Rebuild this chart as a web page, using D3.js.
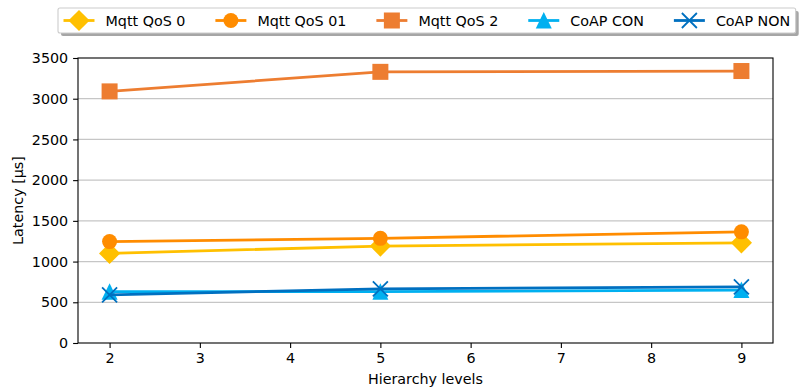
<!DOCTYPE html>
<html>
<head>
<meta charset="utf-8">
<script src="https://cdn.jsdelivr.net/npm/d3@7"></script>
<style>
    body { margin: 0; background: #fff; }
    text { font-family: "DejaVu Sans", sans-serif; fill: #000; }
</style>
</head>
<body>
<div id="chart"></div>
<script>
// data
var levels = [2, 5, 9];
var seriesNames = ["Mqtt QoS 0", "Mqtt QoS 01", "Mqtt QoS 2", "CoAP CON", "CoAP NON"];
var qos0 = [1100, 1190, 1230];
var qos01 = [1245, 1285, 1365];
var qos2 = [3090, 3330, 3340];
var coapCon = [630, 630, 650];
var coapNon = [590, 665, 690];
var xTicks = [2, 3, 4, 5, 6, 7, 8, 9];
var yTicks = [0, 500, 1000, 1500, 2000, 2500, 3000, 3500];

var seriesValues = [qos0, qos01, qos2, coapCon, coapNon];
var colors = ["#ffc000", "#ff8c00", "#ed7d31", "#00b0f0", "#0070c0"];
var markers = ["diamond", "circle", "square", "triangle", "cross"];

var width = 799, height = 390,
    plotLeft = 78, plotRight = 773, plotTop = 58, plotBottom = 343,
    fontSize = 14.3, ms = 15;

var svg = d3.select("#chart").append("svg")
    .attr("width", width)
    .attr("height", height);

var x = d3.scaleLinear().domain([1.65, 9.35]).range([plotLeft, plotRight]);
var y = d3.scaleLinear().domain([0, 3500]).range([plotBottom, plotTop]);

// grid
svg.append("g")
    .selectAll("line")
    .data(yTicks.slice(1, -1))
    .enter().append("line")
    .attr("x1", plotLeft).attr("x2", plotRight)
    .attr("y1", function (d) { return y(d); })
    .attr("y2", function (d) { return y(d); })
    .attr("stroke", "#c6c6c6")
    .attr("stroke-width", 1.3);

function drawMarker(g, type, color) {
    if (type === "circle") {
        g.append("circle").attr("r", ms / 2).attr("fill", color);
    } else if (type === "diamond") {
        var h = ms * Math.SQRT2 / 2;
        g.append("path").attr("d", "M0," + (-h) + "L" + h + ",0L0," + h + "L" + (-h) + ",0Z").attr("fill", color);
    } else if (type === "square") {
        g.append("rect").attr("x", -ms / 2 - 0.5).attr("y", -ms / 2 - 0.5)
            .attr("width", ms + 1).attr("height", ms + 1).attr("fill", color);
    } else if (type === "triangle") {
        var t = ms / 2;
        g.append("path").attr("d", "M0," + (-t - 1) + "L" + (t + 0.5) + "," + (t + 0.5) + "L" + (-t - 0.5) + "," + (t + 0.5) + "Z").attr("fill", color);
    } else if (type === "cross") {
        var c = ms / 2;
        g.append("path").attr("d", "M" + (-c) + "," + (-c) + "L" + c + "," + c + "M" + (-c) + "," + c + "L" + c + "," + (-c))
            .attr("stroke", color).attr("stroke-width", 1.8).attr("fill", "none");
    }
}

var line = d3.line()
    .x(function (d, i) { return x(levels[i]); })
    .y(function (d) { return y(d); });

seriesValues.forEach(function (vals, s) {
    svg.append("path")
        .datum(vals)
        .attr("d", line)
        .attr("fill", "none")
        .attr("stroke", colors[s])
        .attr("stroke-width", 2.8);
    vals.forEach(function (v, i) {
        var g = svg.append("g").attr("transform", "translate(" + x(levels[i]) + "," + y(v) + ")");
        drawMarker(g, markers[s], colors[s]);
    });
});

// frame
svg.append("rect")
    .attr("x", plotLeft).attr("y", plotTop)
    .attr("width", plotRight - plotLeft).attr("height", plotBottom - plotTop)
    .attr("fill", "none").attr("stroke", "#000").attr("stroke-width", 1.1);

// axes
var xAxis = svg.append("g")
    .attr("transform", "translate(0," + plotBottom + ")")
    .call(d3.axisBottom(x).tickValues(xTicks).tickSize(4.9).tickPadding(4.9).tickFormat(d3.format("d")));
var yAxis = svg.append("g")
    .attr("transform", "translate(" + plotLeft + ",0)")
    .call(d3.axisLeft(y).tickValues(yTicks).tickSize(4.9).tickPadding(4.9).tickFormat(d3.format("d")));
[xAxis, yAxis].forEach(function (a) {
    a.select(".domain").remove();
    a.selectAll("line").attr("stroke", "#000").attr("stroke-width", 1.1);
    a.selectAll("text").attr("font-size", fontSize).attr("font-family", "DejaVu Sans");
});

svg.append("text")
    .attr("x", (plotLeft + plotRight) / 2)
    .attr("y", 384)
    .attr("text-anchor", "middle")
    .attr("font-size", fontSize)
    .text("Hierarchy levels");

svg.append("text")
    .attr("transform", "translate(23," + (plotTop + plotBottom) / 2 + ") rotate(-90)")
    .attr("text-anchor", "middle")
    .attr("font-size", fontSize)
    .text("Latency [µs]");

// legend
var legendTop = 8, legendHeight = 25, legendLeft = 58,
    handle = 31, textPad = 11, colSpacing = 30, pad = 5.5;
var legend = svg.append("g");
var shadow = legend.append("rect"), box = legend.append("rect");
var cx = legendLeft + pad, cy = legendTop + legendHeight / 2;
seriesNames.forEach(function (name, s) {
    legend.append("line")
        .attr("x1", cx).attr("x2", cx + handle)
        .attr("y1", cy).attr("y2", cy)
        .attr("stroke", colors[s]).attr("stroke-width", 2.8);
    var g = legend.append("g").attr("transform", "translate(" + (cx + handle / 2) + "," + cy + ")");
    drawMarker(g, markers[s], colors[s]);
    var t = legend.append("text")
        .attr("x", cx + handle + textPad)
        .attr("y", cy + 5)
        .attr("font-size", fontSize)
        .text(name);
    cx += handle + textPad + t.node().getComputedTextLength() + colSpacing;
});
var legendRight = cx - colSpacing + pad;
shadow.attr("x", legendLeft + 3).attr("y", legendTop + 3)
    .attr("width", legendRight - legendLeft).attr("height", legendHeight)
    .attr("rx", 2).attr("fill", "#000").attr("opacity", 0.35);
box.attr("x", legendLeft).attr("y", legendTop)
    .attr("width", legendRight - legendLeft).attr("height", legendHeight)
    .attr("rx", 2).attr("fill", "#fff").attr("stroke", "#cccccc").attr("stroke-width", 1.1);
</script>
</body>
</html>
